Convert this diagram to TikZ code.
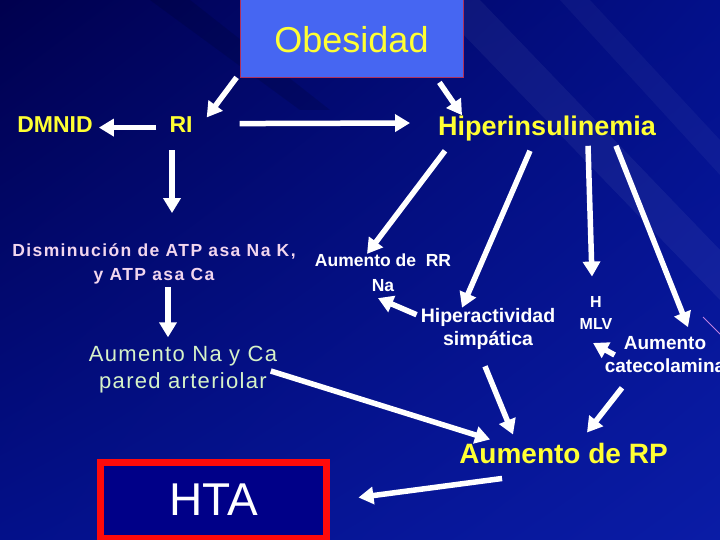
\documentclass[tikz,border=0pt]{standalone}
\usepackage{fontspec}
\setmainfont{Liberation Sans}
\newfontfamily\spacedfont[LetterSpace=8]{Liberation Sans}
\newfontfamily\widefont[LetterSpace=6]{Liberation Sans}
\usepackage{xcolor}
\definecolor{slidedark}{HTML}{00004E}
\definecolor{slidemid}{HTML}{03108A}
\definecolor{slidebright}{HTML}{0A1CA6}
\definecolor{titleblue}{HTML}{4666F2}
\definecolor{titlerim}{HTML}{B0305A}
\definecolor{textyellow}{HTML}{FFFF33}
\definecolor{textpink}{HTML}{F2D6EE}
\definecolor{textgreen}{HTML}{D6F2C8}
\definecolor{boxred}{HTML}{FF0A0A}
\definecolor{boxnavy}{HTML}{000088}
\definecolor{streakpink}{HTML}{C080E0}
\usepackage{tikz}
\usetikzlibrary{arrows.meta,shadings}

\begin{document}
\begin{tikzpicture}[x=1pt, y=-1pt, inner sep=0pt,
  arr/.style={white, line width=5.5pt, -{Triangle[length=15pt, width=17pt]}}]
  % Slide background
  \useasboundingbox (0,0) rectangle (720,540);
  \shade[upper left=slidedark, upper right=slidemid, lower left=slidemid, lower right=slidebright]
    (0,0) rectangle (720,540);
  \fill[white, opacity=0.05] (430,0) -- (480,0) -- (720,250) -- (720,300) -- cycle;
  \fill[white, opacity=0.04] (560,0) -- (590,0) -- (720,140) -- (720,175) -- cycle;
  \fill[black, opacity=0.12] (150,0) -- (190,0) -- (330,110) -- (300,110) -- cycle;
  \draw[streakpink, line width=0.8pt] (703,317) -- (725,339);
  % Boxes
  \node[draw=titlerim, line width=0.8pt, fill=titleblue, minimum width=223pt, minimum height=80pt,
    text height=31pt, text depth=0pt, font=\fontsize{36}{40}\selectfont, text=textyellow]
    (obes) at (351.5,37) {Obesidad};
  \node[draw=boxred, line width=7pt, fill=boxnavy, minimum width=226pt, minimum height=76pt,
    font=\fontsize{46}{50}\selectfont, text=white] (hta) at (213.5,500) {HTA};
  % Labels
  \node[anchor=base, font=\bfseries\fontsize{23}{27}\selectfont, text=textyellow] (dmnid) at (55,132.5) {DMNID};
  \node[anchor=base, font=\bfseries\fontsize{23}{27}\selectfont, text=textyellow] (ri) at (181,132.5) {RI};
  \node[anchor=base, font=\bfseries\fontsize{27}{31}\selectfont, text=textyellow] (hiper) at (547,136) {Hiperinsulinemia};
  \node[align=center, font=\spacedfont\bfseries\fontsize{17.5}{24}\selectfont, text=textpink]
    (dism) at (154,263.5) {Disminución de ATP asa Na K,\\y ATP asa Ca};
  \node[align=center, font=\widefont\fontsize{22}{27}\selectfont, text=textgreen]
    (nayca) at (183,370) {Aumento Na y Ca\\pared arteriolar};
  \node[align=center, font=\bfseries\fontsize{17.5}{25}\selectfont, text=white]
    (rr) at (383,273) {Aumento de\ \ RR\\Na};
  \node[align=center, font=\bfseries\fontsize{19.5}{23}\selectfont, text=white]
    (hiperact) at (488,328.5) {Hiperactividad\\simpática};
  \node[align=center, font=\bfseries\fontsize{16}{22}\selectfont, text=white]
    (hmlv) at (596,313.25) {H\\MLV};
  \node[align=center, font=\bfseries\fontsize{19}{23}\selectfont, text=white]
    (cate) at (665,354.5) {Aumento\\catecolamina};
  \node[anchor=base, font=\bfseries\fontsize{28}{32}\selectfont, text=textyellow] (rp) at (563.5,463) {Aumento de RP};
  % Arrows
  \draw[arr] ([shift={(-3,0)}]obes.south west) -- ([shift={(14,1)}]ri.north east);
  \draw[arr] ([shift={(-13,3)}]ri.west) -- ([shift={(6,3)}]dmnid.east);
  \draw[arr] ([shift={(47,-1)}]ri.east) -- ([shift={(-28,-6)}]hiper.west);
  \draw[arr] ([shift={(-24,5)}]obes.south east) -- ([shift={(24,-1)}]hiper.north west);
  \draw[arr] ([shift={(-9,17.5)}]ri.south) -- ([shift={(18,-30)}]dism.north);
  \draw[arr] ([shift={(14,3.5)}]dism.south) -- ([shift={(-15,-9)}]nayca.north);
  \draw[arr] ([shift={(7,9)}]hiper.south west) -- ([shift={(-16,0)}]rr.north);
  \draw[arr] ([shift={(-17,9)}]hiper.south) -- ([shift={(-26,0)}]hiperact.north);
  \draw[arr] ([shift={(41,4)}]hiper.south) -- ([shift={(-4,-20)}]hmlv.north);
  \draw[arr] ([shift={(-40,4)}]hiper.south east) -- ([shift={(23,-9)}]cate.north);
  \draw[arr] ([shift={(-4,7)}]hiperact.north west) -- ([shift={(-5,6)}]rr.south);
  \draw[arr] ([shift={(10,0.5)}]cate.west) -- ([shift={(-3,13)}]hmlv.south);
  \draw[arr] ([shift={(-6.5,1)}]nayca.east) -- ([shift={(31,-3)}]rp.north west);
  \draw[arr] ([shift={(-3,17)}]hiperact.south) -- ([shift={(-50.5,-8)}]rp.north);
  \draw[arr] ([shift={(-43,15)}]cate.south) -- ([shift={(23.5,-10)}]rp.north);
  \draw[arr] ([shift={(43,15)}]rp.south west) -- ([shift={(28.5,-2.5)}]hta.east);
\end{tikzpicture}
\end{document}
